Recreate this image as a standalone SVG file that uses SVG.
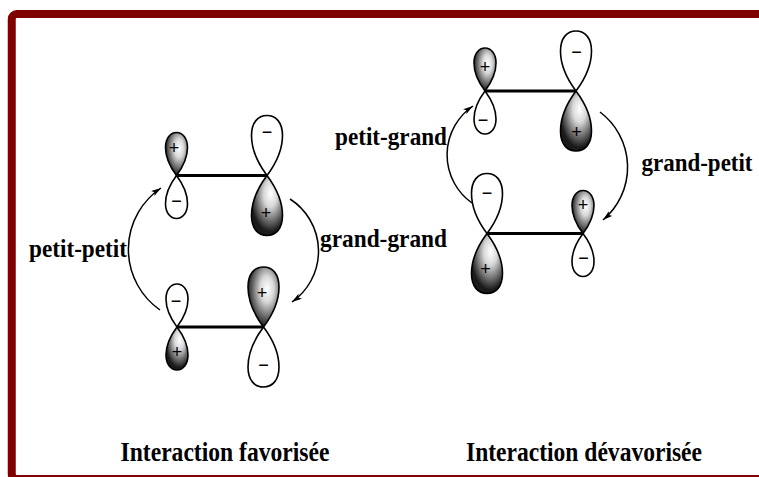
<svg xmlns="http://www.w3.org/2000/svg" xmlns:xlink="http://www.w3.org/1999/xlink" width="759" height="477" viewBox="0 0 759 477">
<style>
.lobe{stroke:#000;stroke-width:1.6;stroke-linejoin:round}
.white{fill:#fff}
.up{fill:url(#gUp)}
.down{fill:url(#gDown)}
.bond{stroke:#000;stroke-width:3;fill:none}
.arc{stroke:#000;stroke-width:1.5;fill:none;marker-end:url(#ah)}
.sign{font-family:"Liberation Sans",Arial,sans-serif;font-size:18px;text-anchor:middle;fill:#000}
.lbl{font-family:"Liberation Serif","Times New Roman",serif;font-weight:bold;font-size:23.2px;fill:#000}
.title{font-family:"Liberation Serif","Times New Roman",serif;font-weight:bold;font-size:23.5px;fill:#000}
</style>
<defs>
<radialGradient id="gUp" cx="0.6" cy="0.38" r="0.62" fx="0.62" fy="0.36">
<stop offset="0" stop-color="#fff"/>
<stop offset="0.35" stop-color="#d8d8d8"/>
<stop offset="1" stop-color="#1a1a1a"/>
</radialGradient>
<radialGradient id="gDown" cx="0.4" cy="0.68" r="0.62" fx="0.38" fy="0.7">
<stop offset="0" stop-color="#fff"/>
<stop offset="0.35" stop-color="#d8d8d8"/>
<stop offset="1" stop-color="#1a1a1a"/>
</radialGradient>
<path id="small" d="M0,0 C-4.5,-6 -11,-15 -11,-28 C-11,-37.5 -6,-43 0,-43 C6,-43 11,-37.5 11,-28 C11,-15 4.5,-6 0,0 Z"/>
<path id="big" d="M0,0 C-6,-8 -15.5,-22 -15.5,-40 C-15.5,-53 -9,-60 0,-60 C9,-60 15.5,-53 15.5,-40 C15.5,-22 6,-8 0,0 Z"/>
<marker id="ah" markerUnits="userSpaceOnUse" markerWidth="12" markerHeight="8" refX="10" refY="3" orient="auto">
<path d="M0,0 L10,3 L0,6 L2.2,3 Z" fill="#000"/>
</marker>
</defs>

<rect id="frame" x="11.75" y="14" width="800" height="465" rx="5" fill="none" stroke="#800000" stroke-width="8"/>

<g id="connectors">
<line class="bond" x1="176.5" y1="175.5" x2="267" y2="175.5"/>
<line class="bond" x1="177" y1="327" x2="263.5" y2="327"/>
<line class="bond" x1="485" y1="91" x2="576" y2="91"/>
<line class="bond" x1="487" y1="233.5" x2="583" y2="233.5"/>
<path class="arc" d="M160,310 A74,74 0 0,1 161,188"/>
<path class="arc" d="M290,199 A62,62 0 0,1 292,302"/>
<path class="arc" d="M472,203 A59,59 0 0,1 473,106"/>
<path class="arc" d="M600,112 A69,69 0 0,1 603,220"/>
</g>

<g id="orb-L-TL">
<use xlink:href="#small" class="lobe up" transform="translate(176.5,175.5)"/>
<use xlink:href="#small" class="lobe white" transform="translate(176.5,175.5) rotate(180)"/>
<text class="sign" x="174" y="154">+</text>
<text class="sign" x="176.5" y="207">−</text>
</g>
<g id="orb-L-TR">
<use xlink:href="#big" class="lobe white" transform="translate(267,175.5)"/>
<use xlink:href="#big" class="lobe down" transform="translate(267,175.5) rotate(180)"/>
<text class="sign" x="267" y="138">−</text>
<text class="sign" x="266" y="219">+</text>
</g>
<g id="orb-L-BL">
<use xlink:href="#small" class="lobe white" transform="translate(177,327)"/>
<use xlink:href="#small" class="lobe down" transform="translate(177,327) rotate(180)"/>
<text class="sign" x="176" y="307">−</text>
<text class="sign" x="177" y="358">+</text>
</g>
<g id="orb-L-BR">
<use xlink:href="#big" class="lobe up" transform="translate(263.5,327)"/>
<use xlink:href="#big" class="lobe white" transform="translate(263.5,327) rotate(180)"/>
<text class="sign" x="262" y="299">+</text>
<text class="sign" x="263.5" y="371">−</text>
</g>

<g id="orb-R-TL">
<use xlink:href="#small" class="lobe up" transform="translate(485,91)"/>
<use xlink:href="#small" class="lobe white" transform="translate(485,91) rotate(180)"/>
<text class="sign" x="485" y="73">+</text>
<text class="sign" x="483" y="126">−</text>
</g>
<g id="orb-R-TR">
<use xlink:href="#big" class="lobe white" transform="translate(576,91)"/>
<use xlink:href="#big" class="lobe down" transform="translate(576,91) rotate(180)"/>
<text class="sign" x="576.5" y="58">−</text>
<text class="sign" x="576.5" y="138">+</text>
</g>
<g id="orb-R-BL">
<use xlink:href="#big" class="lobe white" transform="translate(487,233.5)"/>
<use xlink:href="#big" class="lobe down" transform="translate(487,233.5) rotate(180)"/>
<text class="sign" x="487" y="199">−</text>
<text class="sign" x="485.5" y="275">+</text>
</g>
<g id="orb-R-BR">
<use xlink:href="#small" class="lobe up" transform="translate(583,233.5)"/>
<use xlink:href="#small" class="lobe white" transform="translate(583,233.5) rotate(180)"/>
<text class="sign" x="583" y="211">+</text>
<text class="sign" x="583.5" y="264">−</text>
</g>

<g id="labels">
<text class="lbl" transform="translate(29,257) scale(1,1.12)" textLength="98" lengthAdjust="spacingAndGlyphs">petit-petit</text>
<text class="lbl" transform="translate(320,247) scale(1,1.12)" textLength="127" lengthAdjust="spacingAndGlyphs">grand-grand</text>
<text class="lbl" transform="translate(335,145) scale(1,1.12)" textLength="112" lengthAdjust="spacingAndGlyphs">petit-grand</text>
<text class="lbl" transform="translate(641.5,171) scale(1,1.12)" textLength="111" lengthAdjust="spacingAndGlyphs">grand-petit</text>
<text class="title" transform="translate(120.5,461) scale(1,1.17)" textLength="209" lengthAdjust="spacingAndGlyphs">Interaction favorisée</text>
<text class="title" transform="translate(466,461) scale(1,1.17)" textLength="236" lengthAdjust="spacingAndGlyphs">Interaction dévavorisée</text>
</g>
</svg>
